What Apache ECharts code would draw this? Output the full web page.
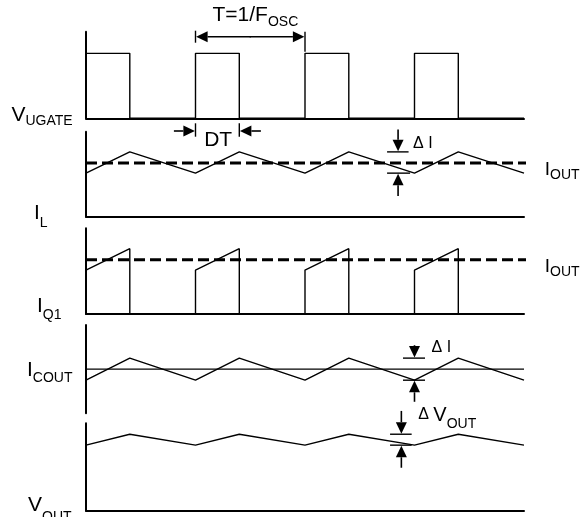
<!DOCTYPE html>
<html>
<head>
<meta charset="utf-8">
<script src="https://cdn.jsdelivr.net/npm/echarts@6/dist/echarts.min.js"></script>
<style>
  html, body { margin: 0; padding: 0; background: #fff; }
  #main { width: 584px; height: 517px; }
</style>
</head>
<body>
<div id="main"></div>
<script>
// ---------------- data (time in switching periods, levels in arbitrary units) ----------------
const gateTime   = [0, 0.4, 0.4, 1, 1, 1.4, 1.4, 2, 2, 2.4, 2.4, 3, 3, 3.4, 3.4, 4];
const gateLevel  = [3, 3,   0,   0, 3, 3,   0,   0, 3, 3,   0,   0, 3, 3,   0,   0];

const rippleTime = [0, 0.4, 1, 1.4, 2, 2.4, 3, 3.4, 4];
const inductorCurrent = [2.05, 3.05, 2.05, 3.05, 2.05, 3.05, 2.05, 3.05, 2.05];

const switchTime    = [0, 0,    0.4,  0.4, 1, 1,    1.4,  1.4, 2, 2,    2.4,  2.4, 3, 3,    3.4,  3.4, 4];
const switchCurrent = [0, 2.05, 3.05, 0,   0, 2.05, 3.05, 0,   0, 2.05, 3.05, 0,   0, 2.05, 3.05, 0,   0];

const capCurrent    = [-0.5, 0.5, -0.5, 0.5, -0.5, 0.5, -0.5, 0.5, -0.5];
const capMeanTime   = [0, 4];
const capMean       = [0, 0];

const outputVoltage = [3.0, 3.5, 3.0, 3.5, 3.0, 3.5, 3.0, 3.5, 3.0];

const iOutTime  = [0, 4.11];
const iOutLevel = [2.53, 2.53];

const panelLabels = [
  ['V', 'UGATE'], ['I', 'L'], ['I', 'Q1'], ['I', 'COUT'], ['V', 'OUT']
];

// ---------------- layout ----------------
const FONT = '"Liberation Sans", Arial, Helvetica, sans-serif';
const BLACK = '#000';
const grids = [
  { left: 86, width: 438, top: 31.7,  height: 86.6 },
  { left: 86, width: 438, top: 131.7, height: 85 },
  { left: 86, width: 438, top: 228.3, height: 85.7 },
  { left: 86, width: 438, top: 325,   height: 88.3 },
  { left: 86, width: 438, top: 423.3, height: 87.4 }
];
const yRanges = [[0, 4], [0, 4], [0, 4], [-2, 2], [0, 4]];

const zip = (xs, ys) => xs.map((x, i) => [x, ys[i]]);

const xAxes = grids.map((g, i) => ({
  type: 'value', gridIndex: i, min: 0, max: 4,
  axisLine: { show: i !== 3, onZero: false, lineStyle: { color: BLACK, width: 2 } },
  axisTick: { show: false }, axisLabel: { show: false }, splitLine: { show: false }
}));
const yAxes = grids.map((g, i) => ({
  type: 'value', gridIndex: i, min: yRanges[i][0], max: yRanges[i][1],
  axisLine: { show: true, onZero: false, lineStyle: { color: BLACK, width: 2 } },
  axisTick: { show: false }, axisLabel: { show: false }, splitLine: { show: false }
}));

function wave(idx, data, extra) {
  return Object.assign({
    type: 'line', xAxisIndex: idx, yAxisIndex: idx, data,
    symbol: 'none', showSymbol: false, silent: true, animation: false,
    lineStyle: { color: BLACK, width: 1.4 }
  }, extra || {});
}
const dashed = { clip: false, lineStyle: { color: BLACK, width: 3, type: [11, 5] } };

const option = {
  backgroundColor: '#fff',
  animation: false,
  grid: grids.map(g => Object.assign({ containLabel: false }, g)),
  xAxis: xAxes,
  yAxis: yAxes,
  series: [
    wave(0, zip(gateTime, gateLevel)),
    wave(1, zip(rippleTime, inductorCurrent)),
    wave(1, zip(iOutTime, iOutLevel), dashed),
    wave(2, zip(switchTime, switchCurrent)),
    wave(2, zip(iOutTime, iOutLevel), dashed),
    wave(3, zip(rippleTime, capCurrent)),
    wave(3, zip(capMeanTime, capMean)),
    wave(4, zip(rippleTime, outputVoltage))
  ]
};

const chart = echarts.init(document.getElementById('main'), null, { renderer: 'canvas' });
chart.setOption(option);

// ---------------- annotations ----------------
const px = (g, t, v) => chart.convertToPixel({ gridIndex: g }, [t, v]);
const G = [];
const mctx = document.createElement('canvas').getContext('2d');
function measure(str, size) { mctx.font = size + 'px ' + FONT; return mctx.measureText(str).width; }
function seg(x1, y1, x2, y2, w) {
  G.push({ type: 'line', silent: true, shape: { x1, y1, x2, y2 }, style: { stroke: BLACK, lineWidth: w || 1.4 } });
}
function arrow(xt, yt, dx, dy, len) {
  const head = 11.5, hw = 5.5;
  const bx = xt - dx * head, by = yt - dy * head;
  if (len > head) seg(xt - dx * len, yt - dy * len, bx, by, 1.6);
  G.push({ type: 'polygon', silent: true,
    shape: { points: [[xt, yt], [bx - dy * hw, by + dx * hw], [bx + dy * hw, by - dx * hw]] },
    style: { fill: BLACK } });
}
function text(str, x, baseline, size, align) {
  G.push({ type: 'text', silent: true, x: x, y: baseline - 0.33 * size,
    style: { text: str, font: size + 'px ' + FONT, fill: BLACK,
             textAlign: align || 'left', align: align || 'left',
             textVerticalAlign: 'middle', verticalAlign: 'middle' } });
}
function label(main, sub, x, base, subBase, size, subSize) {
  text(main, x, base, size);
  text(sub, x + measure(main, size), subBase, subSize);
}

// Period marker
(function () {
  const top = grids[0].top;
  const x1 = px(0, 1, 0)[0], x2 = px(0, 2, 0)[0];
  const ay = top + 5;
  seg(x1, top - 1, x1, top + 11);
  seg(x2, top, x2, top + 20);
  const half = (x2 - x1) / 2;
  arrow(x1 + 0.6, ay, -1, 0, half);
  arrow(x2 - 0.6, ay, 1, 0, half);
  label('T=1/F', 'OSC', x1 + 17, top - 9.4, top - 5, 21, 14);
})();

// Duty marker
(function () {
  const base = px(0, 0, 0)[1];
  const xa = px(0, 1, 0)[0], xb = px(0, 1.4, 0)[0];
  const y = base + 12.7;
  seg(xa, base + 5, xa, base + 18.4);
  seg(xb, base + 5, xb, base + 18.4);
  arrow(xa - 0.6, y, 1, 0, 21);
  arrow(xb + 0.6, y, -1, 0, 21);
  text('DT', (xa + xb) / 2 + 0.8, base + 28.4, 21, 'center');
})();

// Inductor ripple marker
(function () {
  const xa = px(1, 2.85, 0)[0];
  const yT = px(1, 0, 3.05)[1], yB = px(1, 0, 2.05)[1];
  seg(xa - 11, yT, xa + 10.5, yT);
  seg(xa - 11, yB, xa + 12, yB);
  arrow(xa, yT - 0.6, 0, 1, 21.7);
  arrow(xa, yB + 0.6, 0, -1, 22.3);
  text('\u0394 I', xa + 15, yT - 3.4, 16);
})();

// Capacitor ripple marker
(function () {
  const xa = px(3, 3, 0)[0];
  const yT = px(3, 0, 0.5)[1], yB = px(3, 0, -0.5)[1];
  seg(xa - 11.5, yT, xa + 10.5, yT);
  seg(xa - 11.5, yB, xa + 10.5, yB);
  arrow(xa, yT - 0.6, 0, 1, 12.3);
  arrow(xa, yB + 0.6, 0, -1, 21);
  text('\u0394 I', xa + 17, yT - 5, 16);
})();

// Output voltage ripple marker
(function () {
  const xa = px(4, 2.88, 0)[0];
  const yT = px(4, 0, 3.5)[1], yB = px(4, 0, 3.0)[1];
  seg(xa - 11.3, yT, xa + 10.3, yT);
  seg(xa - 11.3, yB, xa + 10.3, yB);
  arrow(xa, yT - 0.6, 0, 1, 22.7);
  arrow(xa, yB + 0.6, 0, -1, 22);
  text('\u0394', xa + 17, yT - 14, 16);
  label('V', 'OUT', xa + 32, yT - 11.7, yT - 5.7, 20, 14);
})();

// I_OUT labels at the dashed lines
[1, 2].forEach(g => {
  const p = px(g, 4, iOutLevel[0]);
  label('I', 'OUT', p[0] + 20.8, p[1] + 13.3, p[1] + 16.6, 19, 14);
});

// Panel labels
const labelPos = [
  [11.5, 121.7, 126],
  [34,   220,   228],
  [37,   313.3, 320],
  [27,   376.7, 383],
  [28,   511.7, 521.7]
];
panelLabels.forEach((l, i) => {
  const p = labelPos[i];
  label(l[0], l[1], p[0], p[1], p[2], 21, 14);
});

chart.setOption({ graphic: { elements: G } });
</script>
</body>
</html>
